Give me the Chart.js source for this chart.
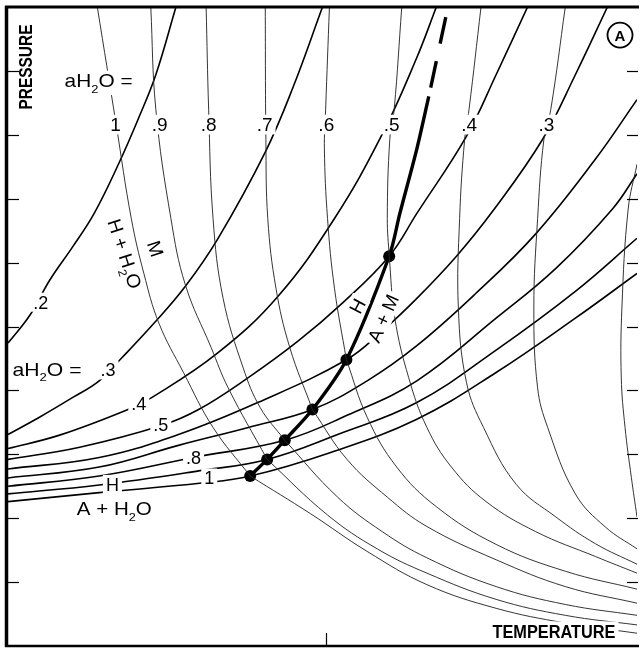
<!DOCTYPE html>
<html><head><meta charset="utf-8">
<script src="https://cdn.jsdelivr.net/npm/chart.js@4.4.0/dist/chart.umd.min.js"></script>
<style>html,body{margin:0;padding:0;background:#fff;}#wrap{width:643px;height:652px;position:relative;}</style>
</head><body><div id="wrap"><canvas id="c"></canvas></div>
<script>
// ---- axis ranges (relative temperature / pressure units) ----
const T_RANGE = [0, 100];
const P_RANGE = [0, 100];
const pressureTicks = [10, 20, 30, 40, 50, 60, 70, 80, 90];
const temperatureTicks = [50.5];

// ---- aH2O values for the two reaction families ----
const activityValues = ['1', '.9', '.8', '.7', '.6', '.5', '.4', '.3', '.2'];

// ---- Family A : A + H2O = H  (one curve per aH2O), points [T, P] ----
const dehyd_10 = [[0,22.6],[14.5,24.0],[30.8,25.5],[38.5,26.6],[51.3,30.3],[65.0,35.5],[77.6,42.8],[90.2,51.3],[100,58.3]];
const dehyd_09 = [[0,23.8],[14.5,25.2],[30.3,27.4],[41.2,29.2],[52.4,33.1],[65.0,38.1],[77.6,46.3],[90.2,55.5],[100,63.8]];
const dehyd_08 = [[0,25.0],[14.5,26.6],[29.5,29.5],[44.0,32.2],[53.9,36.1],[65.0,41.5],[77.6,51.3],[87.1,59.1],[96.1,68.4],[100,73.9]];
const dehyd_07 = [[0,26.3],[14.5,28.0],[27.1,31.4],[38.2,34.2],[48.4,37.0],[57.1,41.5],[65.0,47.0],[74.4,55.2],[83.9,64.5],[93.4,76.2],[100,85.5]];
const dehyd_06 = [[0,27.7],[14.5,29.5],[27.1,33.1],[39.7,38.1],[53.8,44.8],[59.5,49.3],[65.0,54.4],[71.3,61.0],[77.1,68.1],[85.0,79.3],[90.2,89.4],[95.3,100]];
const dehyd_05 = [[0,29.2],[11.4,31.1],[24.4,34.5],[30.3,37.0],[38.2,42.0],[46.1,47.7],[53.2,53.7],[60.6,61.0],[65.0,67.7],[72.9,79.8],[77.6,89.4],[82.6,100]];
const dehyd_04 = [[0,30.9],[8.2,33.0],[18.8,36.9],[22.9,38.9],[33.4,45.9],[42.9,54.7],[51.9,66.9],[59.5,80.1],[65.0,92.1],[68.1,100]];
const dehyd_03 = [[0,33.1],[5.0,35.8],[10.3,38.9],[14.5,41.5],[18.1,45.1],[23.2,50.5],[28.2,56.3],[33.4,63.8],[40.9,77.3],[45.3,87.4],[50.0,100]];
const dehyd_02 = [[0,47.4],[3.5,51.8],[6.6,57.2],[10.3,62.5],[13.7,67.7],[17.7,75.7],[20.8,82.7],[23.5,89.4],[26.7,100]];

// ---- Family B : H + H2O = M above the invariant point, A + H2O = M below it ----
const melt_10_hi = [[14.2,100],[17.2,81.6],[19.6,66.9],[21.6,58.3],[24.0,50.5],[27.9,42.8],[32.6,34.2],[38.5,26.6]];
const melt_10_lo = [[38.5,26.6],[48.1,20.7],[57.1,14.8],[66.6,9.6],[77.6,5.9],[88.6,3.6],[100,2.0]];
const melt_09_hi = [[22.7,100],[23.5,84.0],[25.9,66.9],[28.2,56.5],[32.3,46.7],[35.0,40.4],[41.2,29.2]];
const melt_09_lo = [[41.2,29.2],[50.8,20.5],[58.7,15.2],[66.6,11.4],[77.6,7.3],[88.6,4.8],[100,3.3]];
const melt_08_hi = [[31.5,100],[31.9,84.0],[32.6,66.9],[34.2,54.4],[37.4,43.5],[40.1,37.3],[44.0,32.2]];
const melt_08_lo = [[44.0,32.2],[52.4,23.3],[59.5,17.9],[66.6,13.8],[77.6,9.3],[88.6,6.5],[100,4.8]];
const melt_07_hi = [[40.9,100],[41.0,79.3],[41.3,66.9],[42.6,56.0],[44.8,46.7],[48.4,37.0]];
const melt_07_lo = [[48.4,37.0],[53.9,29.2],[60.3,23.3],[66.6,18.7],[77.6,13.5],[88.6,9.3],[100,6.7]];
const melt_06_hi = [[51.1,100],[50.5,84.0],[50.3,77.8],[50.8,66.9],[51.9,56.0],[53.8,44.8]];
const melt_06_lo = [[53.8,44.8],[57.1,35.8],[61.8,28.0],[68.1,21.8],[77.6,15.9],[88.6,11.7],[100,8.9]];
const melt_05_hi = [[62.6,100],[61.4,84.0],[60.7,79.3],[60.3,66.9],[60.6,61.0]];
const melt_05_lo = [[60.6,61.0],[61.5,51.3],[63.7,42.0],[66.6,34.2],[70.5,28.0],[76.0,22.6],[83.9,17.9],[93.4,14.0],[100,11.4]];
const melt_04 = [[75.2,100],[73.3,84.0],[72.6,79.3],[71.8,66.9],[71.6,52.9],[72.9,41.2],[75.6,34.2],[80.8,25.3],[87.1,20.2],[93.4,16.0],[100,12.8]];
const melt_03 = [[88.6,100],[86.3,84.0],[85.2,79.3],[84.2,66.9],[83.6,52.9],[84.2,40.4],[85.8,34.2],[90.2,23.8],[95.0,18.6],[100,15.2]];
const melt_02 = [[100,75.4],[98.6,68.4],[97.6,52.9],[97.5,42.0],[98.1,34.2],[99.1,26.4],[100,20.2]];

// ---- invariant-point curve H = A + M (bold), intersection points ----
const invariantSolid  = [[38.5,26.6],[41.2,29.2],[44.0,32.2],[48.4,37.0],[53.8,44.8],[60.6,61.0],[62.3,67.7],[65.0,77.8],[66.9,86.0]];
const invariantDashed = [[69.6,98.4],[66.9,86.0]];
const invariantPoints = [[38.5,26.6],[41.2,29.2],[44.0,32.2],[48.4,37.0],[53.8,44.8],[60.6,61.0]];

// ---- label annotations ----
const topLabelT = [17.1, 24.1, 31.9, 40.8, 50.6, 61.0, 73.3, 85.6];
const topLabelP = 81.6;
const annotations = [
  {txt:'aH_2O =', t:14.4, p:88.5, size:19, w:68, bg:true},
  {txt:'aH_2O =', t:6.2, p:43.4, size:19, w:69, bg:true},
  {txt:'.3', t:15.9, p:43.2, size:18, bg:true},
  {txt:'.2', t:5.2, p:53.8, size:18, bg:true},
  {txt:'.4', t:20.8, p:37.9, size:18, bg:true},
  {txt:'.5', t:24.3, p:34.7, size:18, bg:true},
  {txt:'.8', t:29.5, p:29.5, size:18, bg:true},
  {txt:'1', t:32.0, p:26.3, size:18, bg:true},
  {txt:'H', t:16.6, p:25.3, size:18, bg:true},
  {txt:'A + H_2O', t:16.9, p:21.5, size:19, w:75, bg:true},
  {txt:'H + H_2O', t:18.6, p:61.4, size:19, w:72, rot:72},
  {txt:'M', t:23.5, p:62.2, size:19, rot:72},
  {txt:'H', t:55.5, p:53.2, size:19, rot:-62, bg:true},
  {txt:'A + M', t:59.6, p:51.3, size:19, rot:-66, bg:true},
  {txt:'PRESSURE', t:2.8, p:90.6, size:19, w:85, rot:-90, bold:true},
  {txt:'TEMPERATURE', t:86.8, p:2.3, size:19, w:123, bold:true, bg:true}
];
const panelMark = {txt:'A', t:97.3, p:95.6};

const pts = a => a.map(([x, y]) => ({x, y}));
const dehydCurves = [dehyd_10, dehyd_09, dehyd_08, dehyd_07, dehyd_06, dehyd_05, dehyd_04, dehyd_03, dehyd_02];
const meltCurves  = [melt_10_hi, melt_10_lo, melt_09_hi, melt_09_lo, melt_08_hi, melt_08_lo, melt_07_hi, melt_07_lo,
                     melt_06_hi, melt_06_lo, melt_05_hi, melt_05_lo, melt_04, melt_03, melt_02];

const datasets = [];
meltCurves.forEach((c, i) => datasets.push({label:'melting ' + i, data: pts(c), showLine:true,
  borderColor:'#2a2a2a', borderWidth:0.95, pointRadius:0, tension:0.4, fill:false}));
dehydCurves.forEach((c, i) => datasets.push({label:'A + H2O = H, aH2O ' + activityValues[i], data: pts(c), showLine:true,
  borderColor:'#000', borderWidth:1.6, pointRadius:0, tension:0.4, fill:false}));
datasets.push({label:'H = A + M', data: pts(invariantSolid), showLine:true, borderColor:'#000', borderWidth:3.4, pointRadius:0, tension:0.3});
datasets.push({label:'H = A + M (extrapolated)', data: pts(invariantDashed), showLine:true, borderColor:'#000', borderWidth:3.4, pointRadius:0, borderDash:[27,18], borderCapStyle:'butt'});
datasets.push({label:'invariant points', data: pts(invariantPoints), showLine:false, pointRadius:6, pointBackgroundColor:'#000', pointBorderWidth:0});

const FONT = "'Liberation Sans', 'DejaVu Sans', Arial, sans-serif";
const BOLDFONT = "'Liberation Sans Narrow', 'Liberation Sans', 'DejaVu Sans Condensed', sans-serif";

function segs(txt) {
  const out = []; const re = /_(\d)/g; let last = 0, m;
  while ((m = re.exec(txt))) { if (m.index > last) out.push([txt.slice(last, m.index), false]); out.push([m[1], true]); last = re.lastIndex; }
  if (last < txt.length) out.push([txt.slice(last), false]);
  return out;
}
function drawLabel(ctx, s, x, y) {
  const size = s.size || 19;
  const fam = s.bold ? BOLDFONT : FONT;
  const wt = s.bold ? 'bold ' : '';
  const parts = segs(s.txt);
  let total = 0; const widths = [];
  parts.forEach(([t, sub]) => { ctx.font = wt + (sub ? size * 0.62 : size) + 'px ' + fam; const w = ctx.measureText(t).width; widths.push(w); total += w; });
  const sc = s.w ? s.w / total : 1;
  const capH = size * 0.72;
  const hasSub = parts.some(p => p[1]);
  ctx.save();
  ctx.translate(x, y);
  if (s.rot) ctx.rotate(s.rot * Math.PI / 180);
  if (s.bg) {
    ctx.fillStyle = '#fff';
    const pad = 3, padV = 3;
    ctx.fillRect(-total * sc / 2 - pad, -capH / 2 - padV, total * sc + 2 * pad, capH + 2 * padV + (hasSub ? size * 0.25 : 0));
  }
  ctx.scale(sc, 1);
  ctx.fillStyle = '#000';
  ctx.textBaseline = 'alphabetic';
  ctx.textAlign = 'left';
  let x0 = -total / 2;
  parts.forEach(([t, sub], i) => {
    ctx.font = wt + (sub ? size * 0.62 : size) + 'px ' + fam;
    ctx.fillText(t, x0, capH / 2 + (sub ? size * 0.28 : 0));
    x0 += widths[i];
  });
  ctx.restore();
}

const decor = {
  id: 'decor',
  afterDatasetsDraw(chart) {
    const {ctx, scales: {x, y}} = chart;
    topLabelT.forEach((t, i) => drawLabel(ctx, {txt: activityValues[i], size: 19, bg: true}, x.getPixelForValue(t), y.getPixelForValue(topLabelP)));
    annotations.forEach(a => drawLabel(ctx, a, x.getPixelForValue(a.t), y.getPixelForValue(a.p)));
    const cx = x.getPixelForValue(panelMark.t), cy = y.getPixelForValue(panelMark.p);
    ctx.save();
    ctx.beginPath(); ctx.arc(cx, cy, 12.5, 0, Math.PI * 2); ctx.fillStyle = '#fff'; ctx.fill();
    ctx.lineWidth = 1.8; ctx.strokeStyle = '#000'; ctx.stroke();
    ctx.fillStyle = '#000'; ctx.font = 'bold 15px ' + FONT; ctx.textAlign = 'center'; ctx.textBaseline = 'alphabetic';
    ctx.fillText(panelMark.txt, cx, cy + 5.5);
    ctx.restore();
  },
  afterDraw(chart) {
    const {ctx, chartArea: ca, scales: {x, y}} = chart;
    ctx.save();
    ctx.strokeStyle = '#000';
    ctx.lineWidth = 1.2;
    pressureTicks.forEach(v => {
      const py = Math.round(y.getPixelForValue(v)) + 0.5;
      ctx.beginPath(); ctx.moveTo(ca.left, py); ctx.lineTo(ca.left + 11, py); ctx.stroke();
      ctx.beginPath(); ctx.moveTo(ca.right - 10, py); ctx.lineTo(ca.right + 1, py); ctx.stroke();
    });
    temperatureTicks.forEach(v => {
      const px = Math.round(x.getPixelForValue(v)) + 0.5;
      ctx.beginPath(); ctx.moveTo(px, ca.bottom); ctx.lineTo(px, ca.bottom - 13); ctx.stroke();
    });
    ctx.lineWidth = 3.5;
    ctx.beginPath(); ctx.moveTo(ca.left - 1.5, ca.top - 1); ctx.lineTo(ca.left - 1.5, ca.bottom + 1); ctx.stroke();
    ctx.lineWidth = 3;
    ctx.beginPath(); ctx.moveTo(ca.left - 3, ca.top); ctx.lineTo(ca.right + 2, ca.top); ctx.stroke();
    ctx.lineWidth = 2.5;
    ctx.beginPath(); ctx.moveTo(ca.left - 3, ca.bottom); ctx.lineTo(ca.right + 2, ca.bottom); ctx.stroke();
    ctx.restore();
  }
};

new Chart(document.getElementById('c'), {
  type: 'scatter',
  data: {datasets},
  options: {
    responsive: true,
    maintainAspectRatio: false,
    animation: false,
    events: [],
    layout: {padding: {left: 8, right: 1, top: 7, bottom: 2}},
    plugins: {legend: {display: false}, tooltip: {enabled: false}},
    scales: {
      x: {type: 'linear', min: T_RANGE[0], max: T_RANGE[1], display: false},
      y: {type: 'linear', min: P_RANGE[0], max: P_RANGE[1], display: false}
    }
  },
  plugins: [decor]
});
</script>
</body></html>
